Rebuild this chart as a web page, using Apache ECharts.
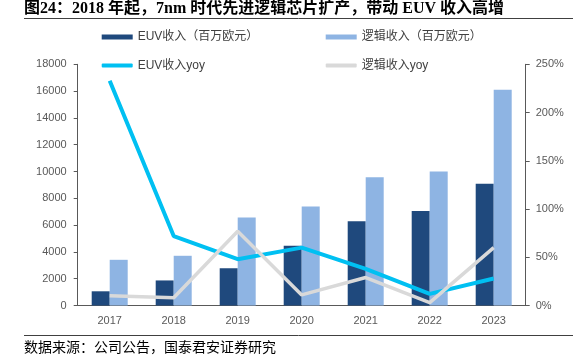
<!DOCTYPE html>
<html><head><meta charset="utf-8">
<script src="https://cdn.jsdelivr.net/npm/echarts@6/dist/echarts.min.js"></script>
<style>html,body{margin:0;padding:0;background:#fff}#c{width:583px;height:360px}</style>
</head><body><div id="c"></div>
<script>
const years = ['2017', '2018', '2019', '2020', '2021', '2022', '2023'];
const euvRevenue = [1060, 1870, 2780, 4460, 6280, 7050, 9080];
const logicRevenue = [3410, 3710, 6570, 7390, 9580, 10000, 16100];
const euvYoY = [233, 72, 48, 60, 38, 12, 28];
const logicYoY = [10, 8, 77, 11, 29, 3, 60];

const FONT = '"Liberation Sans", "Noto Sans CJK SC", sans-serif';
const axisColor = '#595959';
const chart = echarts.init(document.getElementById('c'));

function legendItem(name, left, top, icon, h) {
  return {
    data: [name], left: left, top: top, padding: 0, icon: icon,
    itemWidth: 31, itemHeight: h, itemGap: 0,
    textStyle: { fontSize: 12, color: '#404040', fontFamily: FONT }
  };
}

chart.setOption({
  animation: false,
  backgroundColor: '#fff',
  grid: { left: 77.7, right: 57.3, top: 64.3, bottom: 54.5 },
  legend: [
    legendItem('EUV收入（百万欧元）', 101.7, 31, 'rect', 5),
    legendItem('逻辑收入（百万欧元）', 325.7, 31, 'rect', 5),
    legendItem('EUV收入yoy', 101.7, 59.5, 'roundRect', 4),
    legendItem('逻辑收入yoy', 325.7, 59.5, 'roundRect', 4)
  ],
  xAxis: {
    type: 'category', data: years,
    axisLine: { lineStyle: { color: axisColor, width: 1 } },
    axisTick: { show: false },
    axisLabel: { color: axisColor, fontSize: 11, fontFamily: FONT, margin: 10 }
  },
  yAxis: [{
    type: 'value', min: 0, max: 18000, interval: 2000,
    splitLine: { show: false },
    axisLine: { show: true, lineStyle: { color: axisColor } },
    axisTick: { show: true, length: 4, lineStyle: { color: axisColor } },
    axisLabel: { color: axisColor, fontSize: 11, fontFamily: FONT, margin: 11, formatter: function (v) { return String(v); } }
  }, {
    type: 'value', min: 0, max: 250, interval: 50, position: 'right',
    splitLine: { show: false },
    axisLine: { show: true, lineStyle: { color: axisColor } },
    axisTick: { show: true, length: 4, lineStyle: { color: axisColor } },
    axisLabel: { color: axisColor, fontSize: 11, fontFamily: FONT, margin: 10, formatter: '{value}%' }
  }],
  series: [{
    name: 'EUV收入（百万欧元）', type: 'bar', data: euvRevenue,
    barWidth: 18, barGap: '0%',
    itemStyle: { color: '#1F497D' }
  }, {
    name: '逻辑收入（百万欧元）', type: 'bar', data: logicRevenue,
    barWidth: 18, barGap: '0%',
    itemStyle: { color: '#8EB4E3' }
  }, {
    name: 'EUV收入yoy', type: 'line', yAxisIndex: 1, data: euvYoY,
    symbol: 'none', lineStyle: { color: '#00C0F2', width: 4 }, itemStyle: { color: '#00C0F2' }
  }, {
    name: '逻辑收入yoy', type: 'line', yAxisIndex: 1, data: logicYoY,
    symbol: 'none', lineStyle: { color: '#D9D9D9', width: 3.5 }, itemStyle: { color: '#D9D9D9' }
  }],
  graphic: [
    { type: 'text', style: { x: 24, y: 8.5, verticalAlign: 'middle', text: '图24：2018 年起，7nm 时代先进逻辑芯片扩产，带动 EUV 收入高增', font: 'bold 16px "Liberation Serif", "Noto Sans CJK SC", serif', fill: '#000' } },
    { type: 'line', shape: { x1: 24, y1: 18.5, x2: 573, y2: 18.5 }, style: { stroke: '#404040', lineWidth: 1 } },
    { type: 'line', shape: { x1: 24, y1: 335.5, x2: 573, y2: 335.5 }, style: { stroke: '#404040', lineWidth: 1 } },
    { type: 'text', style: { x: 24, y: 347, verticalAlign: 'middle', text: '数据来源：公司公告，国泰君安证券研究', font: '14px "Noto Sans CJK SC", sans-serif', fill: '#000' } }
  ]
});
</script></body></html>
